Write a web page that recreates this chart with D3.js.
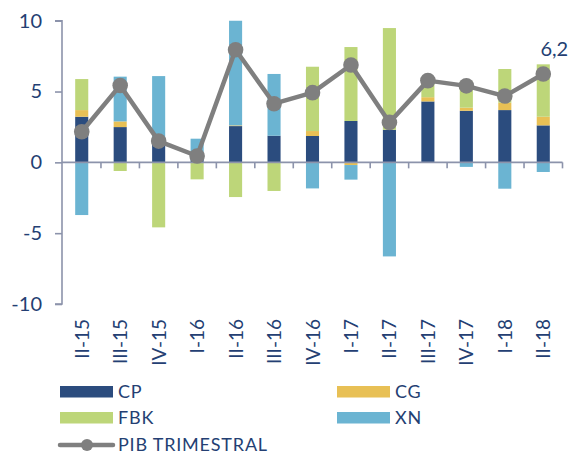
<!DOCTYPE html>
<html>
<head>
<meta charset="utf-8">
<script src="https://cdn.jsdelivr.net/npm/d3@7"></script>
<style>
  html, body { margin: 0; padding: 0; background: #fff; }
  svg { display: block; font-family: Lato, "Open Sans", sans-serif; }
</style>
</head>
<body>
<svg id="chart" width="581" height="456"></svg>
<script>
const categories = ["II-15","III-15","IV-15","I-16","II-16","III-16","IV-16","I-17","II-17","III-17","IV-17","I-18","II-18"];
const CP  = [3.22, 2.49, 1.30, 0.30, 2.56, 1.88, 1.86, 2.92, 2.30, 4.30, 3.64, 3.69, 2.61];
const CG  = [0.47, 0.40, 0.00, 0.00, 0.05, 0.00, 0.35, -0.19, 0.00, 0.30, 0.22, 0.52, 0.61];
const FBK = [2.19, -0.61, -4.59, -1.20, -2.45, -2.02, 4.54, 5.22, 7.18, 1.15, 1.85, 2.38, 3.70];
const XN  = [-3.72, 3.16, 4.79, 1.37, 7.80, 4.36, -1.84, -1.03, -6.64, 0.00, -0.32, -1.86, -0.68];
const PIB = [2.16, 5.43, 1.50, 0.45, 7.95, 4.14, 4.92, 6.87, 2.82, 5.77, 5.40, 4.68, 6.24];
const yTicks = [-10, -5, 0, 5, 10];
const yTickLabels = ["-10", "-5", "0", "5", "10"];
const lastLabel = "6,2";

const seriesKeys = ["CP", "CG", "FBK", "XN"];
const seriesVals = {CP, CG, FBK, XN};
const colors = {CP: "#2B4C7E", CG: "#E8C055", FBK: "#BDD679", XN: "#6BB4D2"};
const lineColor = "#7F7F7F";
const textColor = "#243F73";
const axisColor = "#8C93AB";

const table = categories.map((c, i) => {
  const o = {cat: c};
  seriesKeys.forEach(k => o[k] = seriesVals[k][i]);
  return o;
});

const svg = d3.select("#chart");
const x = d3.scaleBand().domain(categories).range([62.5, 562.5]).paddingInner(0.66).paddingOuter(0.33);
const y = d3.scaleLinear().domain([-10, 10]).range([304, 20.7]);

const stack = d3.stack().keys(seriesKeys).offset(d3.stackOffsetDiverging);
const stacked = stack(table);

svg.append("defs").append("clipPath").attr("id", "plotclip")
  .append("rect").attr("x", 62).attr("y", y(10)).attr("width", 510).attr("height", y(-10) - y(10));

const barsG = svg.append("g").attr("clip-path", "url(#plotclip)");
barsG.selectAll("g.series").data(stacked).join("g")
  .attr("class", "series")
  .attr("fill", d => colors[d.key])
  .selectAll("rect").data(d => d).join("rect")
  .attr("x", d => x(d.data.cat))
  .attr("width", x.bandwidth())
  .attr("y", d => y(Math.max(d[0], d[1])))
  .attr("height", d => Math.abs(y(d[0]) - y(d[1])));

// Y axis
const yAxis = d3.axisLeft(y).tickValues(yTicks).tickSize(7).tickPadding(13)
  .tickFormat((d, i) => yTickLabels[i]);
const yg = svg.append("g").attr("transform", "translate(62,0)").call(yAxis);
yg.select(".domain").attr("stroke", axisColor).attr("stroke-width", 1.6).attr("d", `M-7,${y(10)}H0V${y(-10)}H-7`);
yg.selectAll(".tick line").attr("stroke", axisColor).attr("stroke-width", 1.6);
yg.selectAll(".tick text").attr("fill", textColor).style("font-size", "20px").style("font-family", "Lato, sans-serif");

// X axis at zero
const xg = svg.append("g").attr("transform", `translate(0,${y(0)})`);
xg.append("line").attr("x1", 62).attr("x2", 562.5).attr("y1", 0).attr("y2", 0)
  .attr("stroke", axisColor).attr("stroke-width", 1.6);
const step = x.step();
const boundaries = categories.map(c => x(c) + x.bandwidth() + (step - x.bandwidth()) / 2);
xg.selectAll("line.tk").data(boundaries).join("line").attr("class", "tk")
  .attr("x1", d => d).attr("x2", d => d).attr("y1", 0).attr("y2", 6)
  .attr("stroke", axisColor).attr("stroke-width", 1.6);

// X labels (rotated) at bottom
svg.append("g").selectAll("text").data(categories).join("text")
  .attr("transform", d => `translate(${x(d) + x.bandwidth() / 2 + 7},319) rotate(-90)`)
  .attr("text-anchor", "end")
  .attr("fill", textColor)
  .style("font-size", "19px")
  .text(d => d);

// Line
const cx = (d, i) => x(categories[i]) + x.bandwidth() / 2;
svg.append("path").datum(PIB)
  .attr("fill", "none").attr("stroke", lineColor).attr("stroke-width", 4.5).attr("stroke-linejoin", "round")
  .attr("d", d3.line().x((d, i) => cx(d, i)).y(d => y(d)));
svg.append("g").selectAll("circle").data(PIB).join("circle")
  .attr("cx", (d, i) => cx(d, i)).attr("cy", d => y(d)).attr("r", 7.8).attr("fill", lineColor);

// Label on last point
const li = PIB.length - 1;
svg.append("text")
  .attr("x", cx(PIB[li], li) + 11).attr("y", y(PIB[li]) - 18)
  .attr("text-anchor", "middle").attr("fill", textColor)
  .style("font-size", "20px").text(lastLabel);

// Legend
const legendItems = [
  {key: "CP", label: "CP", x: 60, y: 386},
  {key: "CG", label: "CG", x: 337, y: 386},
  {key: "FBK", label: "FBK", x: 60, y: 412},
  {key: "XN", label: "XN", x: 337, y: 412}
];
const lg = svg.append("g");
legendItems.forEach(it => {
  lg.append("rect").attr("x", it.x).attr("y", it.y).attr("width", 53).attr("height", 11.5).attr("fill", colors[it.key]);
  lg.append("text").attr("x", it.x + 58).attr("y", it.y + 6).attr("dy", "0.36em")
    .attr("fill", textColor).style("font-size", "18px").style("letter-spacing", "0.8px").text(it.label);
});
lg.append("line").attr("x1", 60).attr("x2", 113).attr("y1", 445).attr("y2", 445)
  .attr("stroke", lineColor).attr("stroke-width", 4.5).attr("stroke-linecap", "round");
lg.append("circle").attr("cx", 87).attr("cy", 445).attr("r", 6).attr("fill", lineColor);
lg.append("text").attr("x", 118).attr("y", 445).attr("dy", "0.36em")
  .attr("fill", textColor).style("font-size", "18px").style("letter-spacing", "0.8px").text("PIB TRIMESTRAL");
</script>
</body>
</html>
